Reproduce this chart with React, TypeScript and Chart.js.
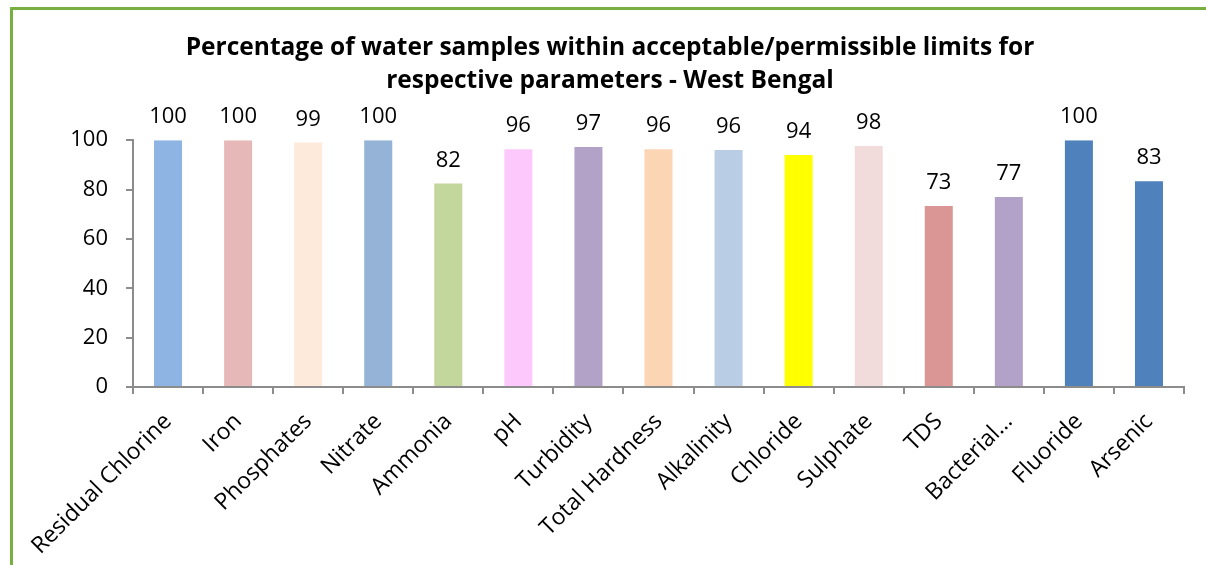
import React, { useEffect, useRef } from "react";
import { Chart, registerables } from "chart.js";

Chart.register(...registerables);

const categories = [
  "Residual Chlorine",
  "Iron",
  "Phosphates",
  "Nitrate",
  "Ammonia",
  "pH",
  "Turbidity",
  "Total Hardness",
  "Alkalinity",
  "Chloride",
  "Sulphate",
  "TDS",
  "Bacterial…",
  "Fluoride",
  "Arsenic",
];

const values = [100, 100, 99, 100, 82.4, 96.3, 97.2, 96.3, 96.0, 94.0, 97.6, 73.3, 77.0, 100, 83.4];

const barColors = [
  "#8EB4E3",
  "#E6B9B8",
  "#FDEADA",
  "#95B3D7",
  "#C3D69B",
  "#FDC9FD",
  "#B3A2C7",
  "#FCD5B5",
  "#B9CDE5",
  "#FFFF00",
  "#F2DCDB",
  "#D99694",
  "#B3A2C7",
  "#4F81BD",
  "#4F81BD",
];

const titleLines = [
  "Percentage of water samples within acceptable/permissible limits for",
  "respective parameters - West Bengal",
];

const FONT = "'Open Sans', 'DejaVu Sans', sans-serif";
const AXIS_GRAY = "#8C8C8C";

const valueLabelPlugin = {
  id: "valueLabels",
  afterDatasetsDraw(chart: any) {
    const ctx = chart.ctx;
    const meta = chart.getDatasetMeta(0);
    ctx.save();
    ctx.font = `22px ${FONT}`;
    ctx.fillStyle = "#000";
    ctx.textAlign = "center";
    ctx.textBaseline = "alphabetic";
    meta.data.forEach((bar: any, i: number) => {
      const v = chart.data.datasets[0].data[i];
      ctx.fillText(String(Math.round(v)), bar.x, bar.y - 17);
    });
    ctx.restore();
  },
};

export default function App() {
  const canvasRef = useRef<HTMLCanvasElement | null>(null);

  useEffect(() => {
    document.body.style.margin = "0";
    const canvas = canvasRef.current;
    if (!canvas) return;
    const chart = new Chart(canvas, {
      type: "bar",
      data: {
        labels: categories,
        datasets: [
          {
            data: values,
            backgroundColor: barColors,
            borderWidth: 0,
            barPercentage: 0.8,
            categoryPercentage: 0.5,
          },
        ],
      },
      options: {
        animation: false,
        responsive: false,
        maintainAspectRatio: false,
        layout: { padding: { left: 36, right: 22, top: 0, bottom: 0 } },
        plugins: {
          legend: { display: false },
          tooltip: { enabled: false },
          title: {
            display: true,
            text: titleLines,
            color: "#000",
            font: { family: FONT, size: 24.5, weight: "bold", lineHeight: 1.35 },
            padding: { top: 31, bottom: 43 },
          },
        },
        scales: {
          x: {
            grid: {
              display: true,
              drawOnChartArea: false,
              drawTicks: true,
              tickLength: 7,
              color: AXIS_GRAY,
              lineWidth: 2,
              offset: true,
            },
            border: { display: true, color: AXIS_GRAY, width: 2 },
            ticks: {
              color: "#000",
              font: { family: FONT, size: 23 },
              minRotation: 45,
              maxRotation: 45,
              autoSkip: false,
              padding: 14,
            },
            afterFit(scale: any) {
              scale.height = 178;
            },
          },
          y: {
            min: 0,
            max: 100,
            grid: {
              display: true,
              drawOnChartArea: false,
              drawTicks: true,
              tickLength: 7,
              color: AXIS_GRAY,
              lineWidth: 2,
            },
            border: { display: true, color: AXIS_GRAY, width: 2 },
            ticks: {
              stepSize: 20,
              color: "#000",
              font: { family: FONT, size: 22 },
              padding: 18,
            },
            afterFit(scale: any) {
              scale.width = 97;
            },
          },
        },
      },
      plugins: [valueLabelPlugin],
    });
    return () => chart.destroy();
  }, []);

  return (
    <div style={{ position: "relative", width: 1206, height: 565, overflow: "hidden", background: "#fff" }}>
      <div
        style={{
          position: "absolute",
          left: 10,
          top: 7,
          width: 1300,
          height: 700,
          borderLeft: "3px solid #77B041",
          borderTop: "3px solid #77B041",
          boxSizing: "border-box",
        }}
      />
      <canvas
        ref={canvasRef}
        width={1206}
        height={565}
        style={{ position: "absolute", left: 0, top: 0, width: 1206, height: 565 }}
      />
    </div>
  );
}
